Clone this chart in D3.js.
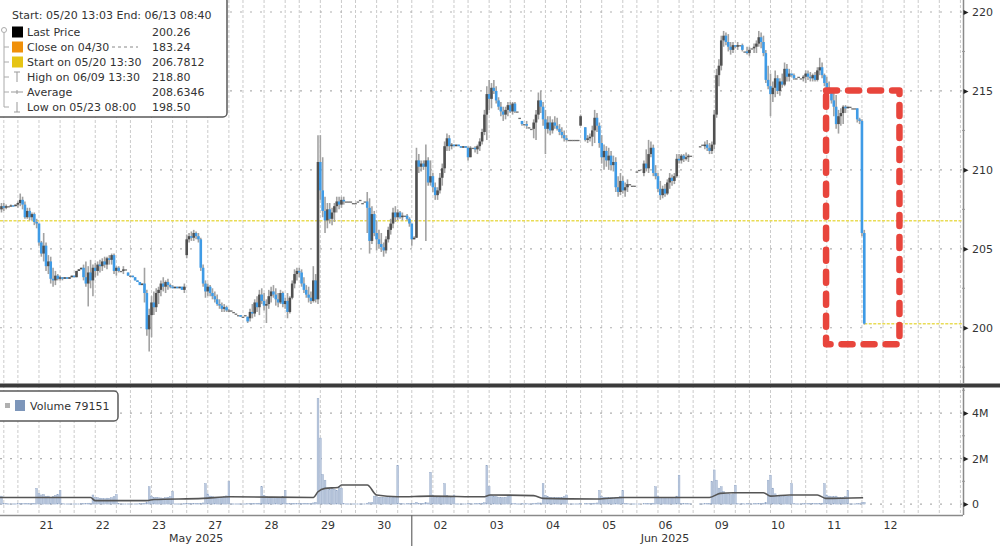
<!DOCTYPE html>
<html><head><meta charset="utf-8">
<script src="https://cdn.jsdelivr.net/npm/d3@7/dist/d3.min.js"></script>
<style>
body{margin:0;background:#fff}
svg{display:block}
text{font-family:"DejaVu Sans",sans-serif;font-size:11px;fill:#333}
</style></head>
<body><svg id="chart" width="1000" height="546"></svg>
<script>
// ---------------- DATA ----------------
const tradingDays = ["05/20","05/21","05/22","05/23","05/27","05/28","05/29","05/30","06/02","06/03","06/04","06/05","06/06","06/09","06/10","06/11","06/12"];
const monthLabels = [["May 2025","05/27",4],["Jun 2025","06/06",12]];
const priceTicks = [200,205,210,215,220];
const priceMinorTicks = [197.5,202.5,207.5,212.5,217.5];
const volumeTicks = [0,2000000,4000000];
const volumeMinorTicks = [1000000,3000000,5000000];

// hourly candles: [hour, open, high, low, close, volume (thousands)]
const c0520 = [[17,207.5,207.9,207.3,207.7,350],[18,207.7,207.9,207.4,207.6,30],[19,207.6,207.8,207.5,207.7,20],[20,207.7,207.7,207.7,207.7,10],[21,207.7,207.8,207.7,207.75,10],[22,207.75,207.75,207.7,207.7,10],[23,207.7,207.8,207.7,207.8,10]];
const c0521 = [[0,207.8,208.0,207.6,207.9,15],[1,207.9,208.5,207.7,208.1,20],[2,208.1,208.3,207.5,207.8,20],[3,207.8,208.0,206.9,207.0,25],[4,207.0,207.6,206.9,207.4,20],[5,207.4,207.6,206.8,207.0,20],[6,207.0,207.3,206.8,207.2,20],[7,207.2,207.3,206.5,206.7,30],[8,206.7,206.9,206.3,206.6,690],[9,206.6,206.6,205.2,205.4,470],[10,205.4,205.5,204.5,204.7,400],[11,204.7,206.0,204.2,205.2,420],[12,205.2,205.4,203.6,203.9,330],[13,203.9,204.6,203.4,204.2,350],[14,204.2,204.5,202.8,203.1,300],[15,203.1,203.8,202.6,203.0,330],[16,203.0,203.6,202.7,203.3,380],[17,203.3,203.4,203.0,203.1,420],[18,203.1,203.3,203.0,203.2,600],[19,203.2,203.2,203.0,203.1,15],[20,203.1,203.2,203.1,203.2,10],[21,203.2,203.2,203.1,203.1,10],[22,203.1,203.2,203.1,203.2,10],[23,203.2,203.3,203.2,203.3,10]];
const c0522 = [[0,203.3,203.3,203.2,203.2,10],[1,203.2,203.6,203.2,203.6,10],[2,203.6,203.7,203.6,203.7,10],[3,203.7,203.8,203.7,203.8,15],[4,203.8,204.0,203.0,203.2,25],[5,203.2,204.2,202.6,202.8,30],[6,202.8,203.9,201.35,203.5,40],[7,203.5,204.3,202.5,203.0,40],[8,203.0,204.0,202.0,203.8,400],[9,203.8,204.1,203.2,203.6,300],[10,203.6,204.2,203.3,204.0,280],[11,204.0,204.3,203.5,203.9,260],[12,203.9,204.4,203.6,204.2,250],[13,204.2,204.5,203.8,204.0,240],[14,204.0,204.5,203.7,204.4,260],[15,204.4,204.6,204.0,204.3,250],[16,204.3,204.7,204.0,204.6,280],[17,204.6,204.7,203.4,203.6,330],[18,203.6,203.9,203.3,203.8,420],[19,203.8,203.9,203.5,203.6,15],[20,203.6,203.6,203.6,203.6,10],[21,203.6,203.9,203.4,203.7,10],[22,203.7,203.7,203.7,203.7,10],[23,203.5,203.5,203.3,203.3,10]];
const c0523 = [[0,203.3,203.3,203.3,203.3,10],[1,203.3,203.3,203.2,203.2,10],[2,203.2,203.2,203.0,203.0,10],[3,203.0,203.0,202.9,202.9,10],[4,202.9,202.9,202.7,202.7,15],[5,202.7,202.8,202.7,202.8,15],[6,202.8,203.8,201.6,202.2,40],[7,202.2,202.4,199.5,199.9,60],[8,199.9,201.2,198.5,200.8,760],[9,200.8,202.0,199.4,201.6,350],[10,201.6,202.3,200.8,201.3,300],[11,201.3,202.5,201.0,202.2,300],[12,202.2,202.6,201.5,202.4,280],[13,202.4,203.0,202.0,202.8,270],[14,202.8,203.2,202.3,202.6,260],[15,202.6,203.0,202.2,202.9,280],[16,202.9,203.1,202.4,202.7,300],[17,202.7,202.8,202.5,202.6,330],[18,202.6,202.7,202.5,202.5,550],[19,202.5,202.6,202.5,202.6,10],[20,202.6,202.6,202.5,202.5,10],[21,202.5,202.6,202.5,202.6,10],[22,202.6,202.6,202.4,202.4,10],[23,202.4,202.8,202.2,202.6,15]];
const c0527 = [[0,204.6,205.9,204.4,205.6,40],[1,205.6,206.0,205.4,205.8,20],[2,205.8,206.1,205.5,205.7,20],[3,205.7,206.2,205.5,206.0,20],[4,206.0,206.1,205.6,205.8,20],[5,205.8,206.0,205.4,205.6,25],[6,205.6,205.7,203.6,203.8,40],[7,203.8,204.0,202.6,202.8,50],[8,202.8,203.0,201.9,202.3,900],[9,202.3,202.8,202.0,202.6,450],[10,202.6,202.7,202.0,202.2,350],[11,202.2,202.5,201.8,202.0,320],[12,202.0,202.3,201.6,201.8,300],[13,201.8,202.1,201.4,201.5,300],[14,201.5,201.8,201.2,201.4,280],[15,201.4,201.6,201.0,201.2,300],[16,201.2,201.5,201.0,201.3,320],[17,201.3,201.4,201.0,201.1,360],[18,201.1,201.2,201.0,201.1,980],[19,201.1,201.1,201.1,201.1,10],[20,201.0,201.0,201.0,201.0,10],[21,200.9,200.9,200.9,200.9,10],[22,200.8,200.8,200.8,200.8,10],[23,200.8,200.8,200.7,200.7,10]];
const c0528 = [[0,200.7,200.7,200.7,200.7,10],[1,200.8,200.8,200.8,200.8,10],[2,200.7,200.7,200.3,200.4,15],[3,200.6,201.2,200.4,201.0,25],[4,201.0,201.5,200.6,200.9,25],[5,200.9,201.8,200.7,201.6,30],[6,201.6,202.0,201.0,201.3,30],[7,201.3,202.4,200.8,202.1,40],[8,202.1,202.5,201.5,201.7,760],[9,201.7,202.2,201.1,201.4,380],[10,201.4,201.8,200.3,201.5,330],[11,201.5,202.4,201.2,202.0,300],[12,202.0,202.6,201.6,202.3,300],[13,202.3,202.7,201.9,202.1,280],[14,202.1,202.5,201.4,201.8,280],[15,201.8,202.2,201.3,201.6,300],[16,201.6,202.4,201.5,202.2,300],[17,202.2,202.3,201.3,201.5,330],[18,201.5,201.9,201.2,201.7,600],[19,201.7,202.2,200.6,201.0,30],[20,201.0,202.0,200.9,201.9,25],[21,201.9,203.0,201.8,202.8,30],[22,202.8,203.7,202.5,203.4,30],[23,203.4,203.8,203.0,203.6,25]];
const c0529 = [[0,203.6,203.8,203.2,203.5,25],[1,203.5,203.7,202.6,202.8,30],[2,202.8,203.2,202.2,202.4,30],[3,202.4,202.7,201.9,202.1,30],[4,202.1,202.6,201.6,201.9,30],[5,201.9,202.3,201.5,201.7,30],[6,201.7,203.9,201.6,203.0,50],[7,203.0,203.4,201.6,201.8,80],[8,201.8,212.2,201.5,210.5,4650],[9,210.5,212.2,208.1,208.7,2900],[10,208.7,210.8,207.0,207.4,1300],[11,207.4,208.3,206.0,206.8,1050],[12,206.8,207.9,206.3,207.5,700],[13,207.5,207.9,206.6,206.9,650],[14,206.9,207.6,206.5,207.3,700],[15,207.3,207.9,206.7,207.7,650],[16,207.7,208.3,207.3,208.0,600],[17,208.0,208.3,207.5,207.8,760],[18,207.8,208.3,207.6,208.1,700],[19,208.1,208.3,207.8,208.0,20],[20,208.0,208.0,208.0,208.0,10],[21,208.0,208.0,208.0,208.0,10],[22,208.0,208.0,208.0,208.0,10],[23,207.9,207.9,207.9,207.9,10]];
const c0530 = [[0,207.9,207.9,207.9,207.9,10],[1,208.0,208.0,208.0,208.0,10],[2,208.1,208.1,208.1,208.1,10],[3,207.9,207.9,207.9,207.9,10],[4,208.0,208.0,208.0,208.0,10],[5,208.0,208.6,206.0,207.6,40],[6,207.6,208.2,204.7,205.5,60],[7,205.5,207.7,205.3,207.2,60],[8,207.2,207.4,205.8,206.0,350],[9,206.0,206.8,204.9,205.6,320],[10,205.6,206.2,205.0,205.3,300],[11,205.3,206.0,204.8,205.1,300],[12,205.1,205.4,204.5,204.9,300],[13,204.9,205.8,204.7,205.6,280],[14,205.6,206.4,205.4,206.2,280],[15,206.2,206.9,205.9,206.6,300],[16,206.6,207.6,206.3,207.3,300],[17,207.3,207.7,206.7,207.0,330],[18,207.0,207.5,206.8,207.3,1700],[19,207.3,207.4,206.9,207.0,20],[20,207.0,207.3,206.8,207.1,15],[21,207.1,207.1,207.1,207.1,10],[22,207.1,207.2,206.8,206.9,15],[23,206.9,207.0,206.4,206.6,20]];
const c0602 = [[0,206.6,206.6,205.2,205.6,30],[1,205.6,205.8,205.6,205.7,15],[2,205.7,211.4,205.7,210.6,80],[3,210.6,211.0,209.8,210.2,40],[4,210.2,210.6,209.9,210.4,30],[5,210.4,210.6,210.0,210.2,30],[6,210.2,211.6,205.5,210.6,60],[7,210.6,210.8,209.0,209.2,50],[8,209.2,210.6,209.0,209.6,1400],[9,209.6,209.8,208.6,208.9,400],[10,208.9,209.2,208.1,208.4,330],[11,208.4,208.9,208.1,208.7,300],[12,208.7,209.8,208.5,209.5,300],[13,209.5,210.4,209.0,210.1,330],[14,210.1,211.8,209.8,211.5,900],[15,211.5,212.3,211.2,212.0,380],[16,212.0,212.2,211.2,211.5,330],[17,211.5,211.7,211.3,211.6,300],[18,211.6,211.6,211.5,211.5,400],[19,211.5,211.6,211.5,211.6,10],[20,211.6,211.6,211.5,211.5,10],[21,211.5,211.5,211.4,211.4,10],[22,211.4,211.5,211.4,211.5,10],[23,211.5,211.5,211.4,211.4,10]];
const c0603 = [[0,211.4,211.5,210.6,210.8,20],[1,210.8,211.5,210.8,211.4,15],[2,211.4,211.4,211.4,211.4,10],[3,211.4,211.5,211.1,211.3,15],[4,211.3,211.6,211.0,211.5,20],[5,211.5,212.0,211.2,211.8,30],[6,211.8,212.6,211.6,212.4,40],[7,212.4,213.8,212.2,213.5,60],[8,213.5,215.3,211.9,214.8,1700],[9,214.8,215.7,213.8,214.5,760],[10,214.5,215.5,213.9,215.2,400],[11,215.2,215.7,214.8,215.0,350],[12,215.0,215.3,214.2,214.4,320],[13,214.4,214.6,213.8,214.0,300],[14,214.0,214.3,213.4,213.7,300],[15,213.7,214.0,213.1,213.5,280],[16,213.5,214.0,213.2,213.8,300],[17,213.8,214.3,213.4,214.1,330],[18,214.1,214.3,213.6,213.7,400],[19,213.7,214.3,213.5,214.2,20],[20,214.2,214.3,213.6,213.7,15],[21,213.7,213.7,213.7,213.7,10],[22,213.3,213.3,213.3,213.3,10],[23,213.1,213.1,212.8,212.9,15]];
const c0604 = [[0,212.9,212.9,212.9,212.9,10],[1,212.9,213.1,212.6,212.8,15],[2,212.7,212.7,212.7,212.7,10],[3,212.6,212.6,212.6,212.6,10],[4,212.6,213.2,212.0,213.0,30],[5,213.0,213.8,211.9,213.5,40],[6,213.5,214.9,213.2,214.4,50],[7,214.4,215.0,213.6,214.0,50],[8,214.0,214.3,212.8,213.2,900],[9,213.2,213.8,211.0,212.6,380],[10,212.6,213.4,212.3,213.0,320],[11,213.0,213.4,212.2,212.5,300],[12,212.5,213.2,212.3,213.0,280],[13,213.0,213.4,212.6,212.8,280],[14,212.8,213.3,212.5,212.6,280],[15,212.6,212.9,212.2,212.4,300],[16,212.4,212.7,212.0,212.2,300],[17,212.2,212.5,211.8,212.0,330],[18,212.0,212.2,211.8,211.9,400],[19,211.9,211.9,211.9,211.9,10],[20,211.9,211.9,211.9,211.9,10],[21,211.9,211.9,211.9,211.9,10],[22,211.9,211.9,211.9,211.9,10],[23,211.9,211.9,211.9,211.9,10]];
const c0605 = [[0,212.8,213.5,212.8,213.4,30],[2,212.7,212.7,211.8,211.9,25],[3,211.9,212.2,211.7,212.0,20],[4,212.0,212.3,211.8,212.1,25],[5,212.1,212.8,211.5,212.5,30],[6,212.5,213.8,211.7,213.3,40],[7,213.3,213.6,212.4,212.8,50],[8,212.8,213.0,211.4,211.7,600],[9,211.7,212.2,210.4,210.8,330],[10,210.8,211.6,210.0,211.2,300],[11,211.2,211.5,210.2,210.6,300],[12,210.6,211.4,210.0,210.9,280],[13,210.9,211.2,210.0,210.3,280],[14,210.3,210.9,209.9,210.5,280],[15,210.5,210.8,208.6,208.9,300],[16,208.9,209.6,208.3,208.6,300],[17,208.6,209.8,208.4,209.3,330],[18,209.3,209.6,208.5,208.7,600],[19,208.7,209.2,208.3,208.9,20],[20,208.9,209.4,208.6,209.1,15],[21,209.1,209.1,209.1,209.1,10],[22,209.0,209.0,209.0,209.0,10],[23,209.0,209.0,209.0,209.0,10]];
const c0606 = [[0,209.9,209.9,209.9,209.9,10],[1,210.0,210.0,210.0,210.0,10],[3,209.8,210.6,209.6,210.4,20],[4,210.4,211.3,209.9,210.1,25],[5,210.1,211.9,209.8,211.0,30],[6,211.0,211.8,210.8,211.4,30],[7,211.4,211.6,209.6,209.8,40],[8,209.8,210.3,209.4,209.6,760],[9,209.6,209.8,208.6,208.8,330],[10,208.8,209.3,208.1,208.4,300],[11,208.4,209.0,208.2,208.8,280],[12,208.8,209.1,208.3,208.5,280],[13,208.5,209.4,208.4,209.2,280],[14,209.2,209.8,208.8,209.5,280],[15,209.5,209.7,209.0,209.3,300],[16,209.3,209.8,209.1,209.6,300],[17,209.6,211.0,209.5,210.7,350],[18,210.7,211.0,210.4,210.6,1270],[19,210.6,211.0,210.4,210.9,20],[20,210.9,211.0,210.5,210.7,15],[21,210.7,211.1,210.6,210.8,15],[22,210.8,211.0,210.5,210.9,15],[23,210.9,210.9,210.9,210.9,10]];
const c0609 = [[3,211.5,211.5,211.5,211.5,10],[4,211.6,211.6,211.6,211.6,10],[5,211.5,211.8,211.3,211.6,20],[6,211.6,211.9,211.2,211.4,25],[7,211.4,211.7,211.0,211.2,30],[8,211.2,211.8,211.0,211.6,1000],[9,211.6,213.8,211.3,213.5,1500],[10,213.5,216.4,213.3,216.0,1050],[11,216.0,217.0,215.3,216.6,700],[12,216.6,218.5,216.3,218.2,760],[13,218.2,218.8,217.8,218.5,550],[14,218.5,218.7,217.9,218.1,450],[15,218.1,218.6,217.5,217.8,450],[16,217.8,218.1,217.3,217.6,420],[17,217.6,218.1,217.4,217.9,450],[18,217.9,217.9,217.7,217.8,830],[19,217.8,218.1,217.6,217.9,20],[20,217.9,217.9,217.9,217.9,10],[21,217.9,218.0,217.5,217.6,15],[22,217.5,217.5,217.5,217.5,10],[23,217.5,217.8,217.3,217.4,15]];
const c0610 = [[0,217.4,217.8,217.2,217.6,15],[1,217.7,217.7,217.7,217.7,10],[2,217.7,218.0,217.4,217.8,15],[3,217.8,218.2,217.4,218.0,20],[4,218.0,218.8,217.8,218.4,30],[5,218.4,218.7,217.7,218.1,30],[6,218.1,218.5,217.2,217.4,40],[7,217.4,217.6,215.5,215.7,60],[8,215.7,216.6,215.1,215.3,1050],[9,215.3,216.1,213.4,214.8,1270],[10,214.8,215.6,214.3,215.2,700],[11,215.2,216.3,214.6,215.8,450],[12,215.8,216.0,214.8,215.0,380],[13,215.0,215.8,214.7,215.6,350],[14,215.6,216.1,215.2,215.4,330],[15,215.4,216.8,215.3,216.4,350],[16,216.4,216.7,215.6,215.9,330],[17,215.9,216.4,215.6,216.1,350],[18,216.1,216.1,215.9,216.0,900],[19,216.0,216.1,215.7,215.8,15],[20,215.8,215.8,215.8,215.8,10],[21,215.9,215.9,215.9,215.9,10],[22,215.8,215.8,215.8,215.8,10],[23,215.8,216.0,215.6,215.9,15]];
const c0611 = [[0,215.9,216.3,215.5,216.1,20],[1,216.1,216.3,215.7,215.9,15],[2,215.9,216.2,215.6,215.8,15],[3,215.8,216.1,215.6,216.0,20],[4,216.0,216.2,215.6,215.7,20],[5,215.7,216.5,215.6,216.3,25],[6,216.3,217.1,216.0,216.5,30],[7,216.5,216.8,215.8,216.0,40],[8,216.0,216.1,215.3,215.5,900],[9,215.5,215.9,214.9,215.2,400],[10,215.2,215.6,214.8,215.0,350],[11,215.0,215.1,214.2,214.4,330],[12,214.4,214.9,213.4,214.0,330],[13,214.0,214.75,212.6,212.9,350],[14,212.9,213.8,212.3,213.4,300],[15,213.4,213.9,212.8,213.6,300],[16,213.6,214.1,212.9,214.0,300],[17,214.0,214.1,213.6,213.9,330],[18,213.9,214.0,213.9,214.0,600],[19,214.0,214.0,214.0,214.0,10],[20,213.9,213.9,213.9,213.9,10],[21,213.9,213.9,213.9,213.9,10],[22,213.9,213.9,213.0,213.2,20],[23,213.2,213.3,212.9,213.1,20]];
const c0612 = [[0,213.1,213.2,205.8,206.0,60],[1,206.0,206.2,200.2,200.26,79.151]];

// volume moving average: [day, hour, value (thousands)]
const volumeAvg = [["05/20",16,290],["05/22",7,290],["05/22",9,150],["05/23",7,150],["05/23",10,200],["05/27",7,250],["05/27",18.5,320],["05/29",6,290],["05/29",8,540],["05/29",11,690],["05/29",16.5,730],["05/29",18,840],["05/30",5,840],["05/30",9,400],["05/30",18,320],["06/02",8,350],["06/03",6.5,320],["06/03",9.5,400],["06/04",4,370],["06/04",8,250],["06/05",7,220],["06/05",18,290],["06/09",7,290],["06/09",11.5,470],["06/09",17,500],["06/10",6,500],["06/10",9,350],["06/10",17,400],["06/11",5,400],["06/11",8.5,250],["06/12",0.5,280]];

const legendTitle = "Start: 05/20 13:03 End: 06/13 08:40";
const legendRows = [
  ["Last Price","200.26"],
  ["Close on 04/30","183.24"],
  ["Start on 05/20 13:30","206.7812"],
  ["High on 06/09 13:30","218.80"],
  ["Average","208.6346"],
  ["Low on 05/23 08:00","198.50"]
];
const startLevel = 206.7812;
const lastPrice = 200.26;
// highlight box (annotation) in data terms
const boxTimes = [["06/11",8.7],["06/12",16]];
const boxPrices = [198.96,215.03];

// ---------------- CHART ----------------
const dayCandles = [c0520,c0521,c0522,c0523,c0527,c0528,c0529,c0530,c0602,c0603,c0604,c0605,c0606,c0609,c0610,c0611,c0612];
const tOf = (day,hour) => tradingDays.indexOf(day) - 1 + hour/24;
const candles = [];
dayCandles.forEach((arr,i)=>arr.forEach(d=>candles.push({t:i-1+d[0]/24,o:d[1],h:d[2],l:d[3],c:d[4],v:d[5]*1000})));

const svg = d3.select("#chart");
const axisX = 963;
const x = d3.scaleLinear().domain([-0.318,16.796]).range([0,axisX]);
const y = d3.scaleLinear().domain([196.5,220.76]).range([383,0]);
const vy = d3.scaleLinear().domain([-480000,5100000]).range([515,388]);

const grid = svg.append("g");
for(let i=-1;i<tradingDays.length;i++){
  [0,9,18].forEach(h=>{
    const xx = x(i+h/24);
    if(xx<0||xx>axisX) return;
    grid.append("line").attr("x1",xx).attr("x2",xx).attr("y1",0).attr("y2",515)
      .attr("stroke","#cbcbcb").attr("stroke-width",1).attr("stroke-dasharray","3,2");
  });
}
priceTicks.forEach(p=>grid.append("line").attr("x1",0).attr("x2",axisX).attr("y1",y(p)).attr("y2",y(p))
  .attr("stroke","#b0b0b0").attr("stroke-width",1.2).attr("stroke-dasharray","2,8"));
volumeTicks.forEach(v=>grid.append("line").attr("x1",0).attr("x2",axisX).attr("y1",vy(v)).attr("y2",vy(v))
  .attr("stroke","#b0b0b0").attr("stroke-width",1.2).attr("stroke-dasharray","2,8"));

// yellow reference lines
svg.append("line").attr("x1",0).attr("x2",axisX).attr("y1",y(startLevel)).attr("y2",y(startLevel))
  .attr("stroke","#e9dc55").attr("stroke-width",1.5).attr("stroke-dasharray","3,1.5");
const lastT = candles[candles.length-1].t;
svg.append("line").attr("x1",x(lastT)).attr("x2",axisX).attr("y1",y(lastPrice)).attr("y2",y(lastPrice))
  .attr("stroke","#e9dc55").attr("stroke-width",1.5).attr("stroke-dasharray","3,1.5");

// candles
const cg = svg.append("g");
candles.forEach(d=>{
  const cx = x(d.t);
  if(d.h>d.l) cg.append("line").attr("x1",cx).attr("x2",cx).attr("y1",y(d.h)).attr("y2",y(d.l))
    .attr("stroke","#a2a2a2").attr("stroke-width",1.6);
  const top = Math.min(y(d.o),y(d.c)), hgt = Math.max(1.3,Math.abs(y(d.o)-y(d.c)));
  const down = d.c<d.o;
  cg.append("rect").attr("x",cx-1.3).attr("width",2.6).attr("y",top).attr("height",hgt)
    .attr("fill",down?"#3f9be6":(d.c===d.o?"#707070":"#505050"));
});

// volume bars
const vg = svg.append("g");
candles.forEach(d=>{
  const cx = x(d.t);
  vg.append("rect").attr("x",cx-0.9).attr("width",1.8).attr("y",vy(d.v)).attr("height",Math.max(0.3,vy(0)-vy(d.v)))
    .attr("fill","#bccadf").attr("stroke","#8fa4c4").attr("stroke-width",0.4);
});
svg.append("path").datum(volumeAvg)
  .attr("d",d3.line().x(d=>x(tOf(d[0],d[1]))).y(d=>vy(d[2]*1000)).curve(d3.curveMonotoneX))
  .attr("fill","none").attr("stroke","#555").attr("stroke-width",1.6);

// panel divider
svg.append("line").attr("x1",0).attr("x2",1000).attr("y1",385.5).attr("y2",385.5).attr("stroke","#3a3a3a").attr("stroke-width",4);

// right axes
function rightAxis(scale,ticks,minor,fmt){
  const g = svg.append("g").attr("transform",`translate(${axisX},0)`);
  g.call(d3.axisRight(scale).tickValues(ticks).tickSize(0).tickSizeOuter(0).tickPadding(9).tickFormat(fmt));
  g.select(".domain").attr("stroke","#8a8a8a").attr("stroke-width",1.5);
  g.selectAll(".tick text").attr("font-family","DejaVu Sans").attr("font-size",11).attr("fill","#333");
  g.selectAll(".tick").append("path").attr("d","M0.5,-2.5L5.5,0L0.5,2.5Z").attr("fill","#222");
  minor.forEach(m=>g.append("line").attr("x1",-1).attr("x2",2).attr("y1",scale(m)).attr("y2",scale(m)).attr("stroke","#999"));
  return g;
}
const pAx = rightAxis(y,priceTicks,priceMinorTicks,d=>d);
pAx.select(".domain").attr("d","M0.5,0V383");
const vAx = rightAxis(vy,volumeTicks,volumeMinorTicks,d=>d===0?"0":(d/1e6)+"M");
vAx.select(".domain").attr("d","M0.5,388V515");

// bottom axis
const dayTicks = tradingDays.slice(1).map((d,i)=>i+0.5);
const bx = svg.append("g").attr("transform","translate(0,515)")
  .call(d3.axisBottom(x).tickValues(dayTicks).tickSize(0).tickSizeOuter(0).tickPadding(6)
    .tickFormat((d,i)=>tradingDays[i+1].slice(3)));
bx.select(".domain").attr("d",`M0,0.5H${axisX}`).attr("stroke","#8a8a8a").attr("stroke-width",1.5);
bx.selectAll(".tick text").attr("font-family","DejaVu Sans").attr("font-size",11).attr("fill","#333");
monthLabels.forEach(m=>svg.append("text").attr("x",x(tOf(m[1],m[2]))).attr("y",542).attr("text-anchor","middle").text(m[0]));
svg.append("line").attr("x1",x(tOf("06/02",0))).attr("x2",x(tOf("06/02",0))).attr("y1",515).attr("y2",546)
  .attr("stroke","#666").attr("stroke-width",1.2);

// highlight box
const bx0 = x(tOf(...boxTimes[0])), bx1 = x(tOf(...boxTimes[1]));
const by0 = y(boxPrices[1]), by1 = y(boxPrices[0]);
svg.append("path").attr("d",`M${bx0},${by0}H${bx1}V${by1}H${bx0}Z`)
  .attr("fill","none").attr("stroke","#e8453c").attr("stroke-width",6.5)
  .attr("stroke-dasharray","11,11").attr("stroke-linecap","round").attr("stroke-linejoin","round");

// legend (price)
const lg = svg.append("g");
lg.append("rect").attr("x",-3).attr("y",-3).attr("width",230).attr("height",120).attr("rx",4)
  .attr("fill","#fff").attr("stroke","#5a5a5a").attr("stroke-width",1.5);
lg.append("text").attr("x",12).attr("y",19).attr("font-size",10.6).text(legendTitle);
const rowY = [32,47,62,77,92,107];
const swatch = ["#000","#f0900a","#e6c414"];
lg.append("line").attr("x1",4).attr("x2",4).attr("y1",33).attr("y2",rowY[5]).attr("stroke","#aaa");
lg.append("circle").attr("cx",4).attr("cy",30).attr("r",2.5).attr("fill","#fff").attr("stroke","#aaa");
rowY.slice(1).forEach(yy=>lg.append("line").attr("x1",4).attr("x2",9).attr("y1",yy).attr("y2",yy).attr("stroke","#aaa"));
legendRows.forEach((r,i)=>{
  const yy=rowY[i];
  if(i<3) lg.append("rect").attr("x",12).attr("y",yy-5.5).attr("width",11).attr("height",11).attr("fill",swatch[i]);
  lg.append("text").attr("x",27).attr("y",yy+4).text(r[0]);
  lg.append("text").attr("x",152).attr("y",yy+4).text(r[1]);
});
lg.append("line").attr("x1",112).attr("x2",138).attr("y1",rowY[1]).attr("y2",rowY[1]).attr("stroke","#888").attr("stroke-dasharray","3,3");
const ic = "#999";
lg.append("path").attr("d",`M17,${rowY[3]-5}V${rowY[3]+5}M14,${rowY[3]-5}H20`).attr("stroke",ic).attr("fill","none");
lg.append("path").attr("d",`M11,${rowY[4]}H23M17,${rowY[4]-2}V${rowY[4]+2}`).attr("stroke",ic).attr("fill","none");
lg.append("path").attr("d",`M17,${rowY[5]-5}V${rowY[5]+5}M14,${rowY[5]+5}H20`).attr("stroke",ic).attr("fill","none");

// legend (volume)
const lastVol = Math.round(candles[candles.length-1].v);
const vl = svg.append("g");
vl.append("rect").attr("x",-3).attr("y",391).attr("width",121).attr("height",30).attr("rx",4)
  .attr("fill","#fff").attr("stroke","#5a5a5a").attr("stroke-width",1.5);
vl.append("rect").attr("x",5).attr("y",403).attr("width",5).attr("height",5).attr("fill","#b0b0b0");
vl.append("rect").attr("x",15).attr("y",400).attr("width",10).attr("height",11).attr("fill","#7d96ba");
vl.append("text").attr("x",30).attr("y",410).text("Volume " + lastVol);
</script></body></html>
